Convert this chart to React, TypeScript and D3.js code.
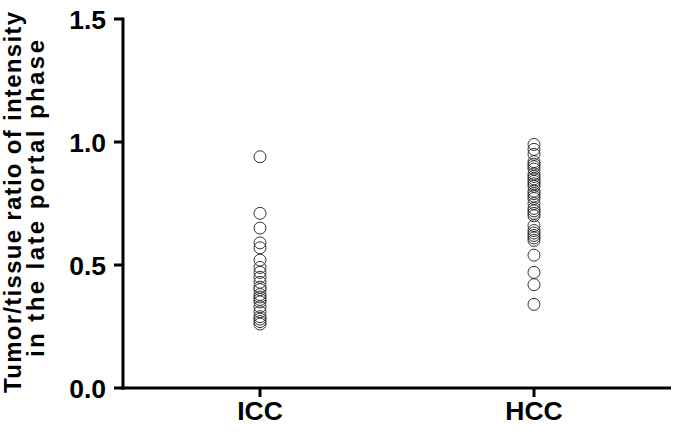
import React from "react";
import * as d3 from "d3";

const categories = ["ICC", "HCC"];
const iccValues = [0.94, 0.71, 0.65, 0.59, 0.57, 0.52, 0.49, 0.47, 0.45, 0.43, 0.41, 0.40, 0.38, 0.37, 0.36, 0.35, 0.33, 0.31, 0.29, 0.28, 0.27, 0.26];
const hccValues = [0.99, 0.97, 0.95, 0.92, 0.91, 0.90, 0.89, 0.87, 0.86, 0.85, 0.84, 0.83, 0.82, 0.80, 0.79, 0.78, 0.77, 0.75, 0.73, 0.72, 0.71, 0.70, 0.66, 0.64, 0.63, 0.62, 0.61, 0.60, 0.54, 0.47, 0.42, 0.34];
const yTicks = [0, 0.5, 1.0, 1.5];
const titleLines = ["Tumor/tissue ratio of intensity", "in the late portal phase"];

const W = 677;
const H = 435;
const left = 123;
const right = 671;
const top = 19;
const bottom = 388;
const font = "'Liberation Sans', Arial, sans-serif";

const titleLayout = [
  { x: 21, cy: 202.5, len: 381 },
  { x: 44, cy: 198.5, len: 317 },
];

export default function App() {
  const x = d3.scalePoint<string>().domain(categories).range([left, right]).padding(0.5);
  const y = d3.scaleLinear().domain([0, 1.5]).range([bottom, top]);
  const series = [iccValues, hccValues];
  return (
    <svg width={W} height={H} style={{ position: "absolute", left: 0, top: 0, background: "#fff" }}>
      {/* y axis */}
      <line x1={left} x2={left} y1={top - 1.5} y2={bottom + 1.5} stroke="#000" strokeWidth={3} />
      {yTicks.map((t) => (
        <g key={t}>
          <line x1={left - 9} x2={left} y1={y(t)} y2={y(t)} stroke="#000" strokeWidth={3} />
          <text x={106} y={y(t)} dy="0.36em" textAnchor="end" fontFamily={font} fontWeight="bold" fontSize={26.5} fill="#000">
            {d3.format(".1f")(t)}
          </text>
        </g>
      ))}
      {/* x axis */}
      <line x1={left - 1.5} x2={right} y1={bottom} y2={bottom} stroke="#000" strokeWidth={3} />
      {categories.map((c) => (
        <g key={c}>
          <line x1={x(c)} x2={x(c)} y1={bottom} y2={bottom + 9} stroke="#000" strokeWidth={3} />
          <text x={x(c)} y={420} textAnchor="middle" fontFamily={font} fontWeight="bold" fontSize={26.5} fill="#000">
            {c}
          </text>
        </g>
      ))}
      {/* title */}
      {titleLines.map((s, i) => (
        <text
          key={i}
          transform={`translate(${titleLayout[i].x},${titleLayout[i].cy}) rotate(-90)`}
          textAnchor="middle"
          fontFamily={font}
          fontWeight="bold"
          fontSize={24}
          textLength={titleLayout[i].len}
          lengthAdjust="spacing"
          fill="#000"
        >
          {s}
        </text>
      ))}
      {/* points */}
      {series.map((vals, si) =>
        vals.map((v, i) => (
          <circle key={`${si}-${i}`} cx={x(categories[si])} cy={y(v)} r={6} fill="none" stroke="#333" strokeWidth={1} />
        ))
      )}
    </svg>
  );
}
